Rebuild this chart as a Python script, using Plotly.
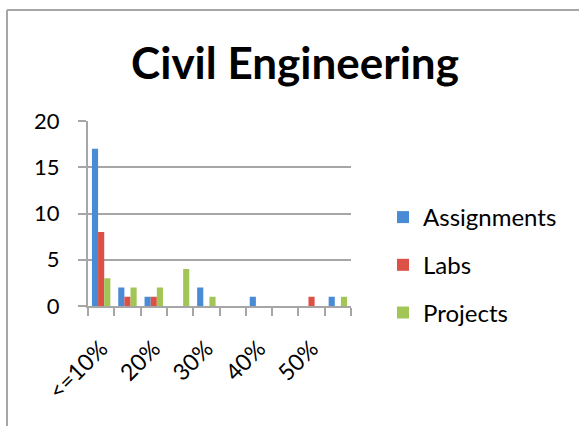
import plotly.graph_objects as go

categories = ["<=10%", "15%", "20%", "25%", "30%", "35%", "40%", "45%", "50%", "55%"]
tick_labels = ["<=10%", "20%", "30%", "40%", "50%"]
assignments = [17, 2, 1, 0, 2, 0, 1, 0, 0, 1]
labs = [8, 1, 1, 0, 0, 0, 0, 0, 1, 0]
projects = [3, 2, 2, 4, 1, 0, 0, 0, 0, 1]

W, H = 579, 427
L, R, T, B = 88, 351, 121, 306

xpos = list(range(len(categories)))
series = [("Assignments", assignments, "#4a8bd6"),
          ("Labs", labs, "#dc5045"),
          ("Projects", projects, "#a2c655")]

fig = go.Figure()
for i, (name, vals, col) in enumerate(series):
    fig.add_trace(go.Bar(x=xpos, y=vals, name=name, marker=dict(color=col, line=dict(width=0)),
                         legendgroup=name, customdata=categories,
                         hovertemplate="%{customdata}: %{y}<extra>" + name + "</extra>"))

grid = "#a6a6a6"
fig.update_layout(
    width=W, height=H,
    margin=dict(l=L, r=W - R, t=T, b=H - B),
    paper_bgcolor="white", plot_bgcolor="white",
    barmode="group", bargap=0.3, bargroupgap=0,
    font=dict(family="Lato, sans-serif", color="black"),
    title=dict(text="<b>Civil Engineering</b>", x=295 / W, xref="container", xanchor="center",
               y=1 - 64 / H, yref="container", yanchor="middle",
               font=dict(size=44, family="Lato, sans-serif", color="black")),
    showlegend=True,
    legend=dict(x=383 / W, xref="container", xanchor="left", y=1 - 195 / H, yref="container",
                yanchor="top", font=dict(size=24), tracegroupgap=13.5, itemwidth=30,
                bgcolor="rgba(0,0,0,0)"),
    xaxis=dict(range=[-0.5, len(categories) - 0.5], tickmode="array",
               tickvals=[0, 2, 4, 6, 8], ticktext=tick_labels, ticks="", tickangle=-45,
               tickfont=dict(size=23), showgrid=False, zeroline=False,
               showline=True, linecolor=grid, linewidth=2, ticklabelstandoff=18,
               minor=dict(tickmode="linear", tick0=-0.5, dtick=1, ticks="outside", ticklen=8,
                          tickcolor=grid, tickwidth=2, showgrid=False)),
    yaxis=dict(range=[0, 20], tickvals=[0, 5, 10, 15, 20], ticks="outside", ticklen=8,
               tickcolor=grid, tickwidth=2, showgrid=True, gridcolor=grid, gridwidth=2,
               zeroline=False, showline=True, linecolor=grid, linewidth=2,
               tickfont=dict(size=22), ticklabelstandoff=14),
    shapes=[
        dict(type="line", xref="paper", yref="paper", x0=(7 - L) / (R - L), x1=(W + 5 - L) / (R - L),
             y0=(B - 10) / (B - T), y1=(B - 10) / (B - T), line=dict(color=grid, width=2)),
        dict(type="line", xref="paper", yref="paper", x0=(7 - L) / (R - L), x1=(7 - L) / (R - L),
             y0=(B - 10) / (B - T), y1=(B - 426) / (B - T), line=dict(color=grid, width=2)),
    ],
)

fig.write_html("out.html", config={"displayModeBar": False},
               post_script="document.body.style.margin='0';document.body.style.overflow='hidden';")
